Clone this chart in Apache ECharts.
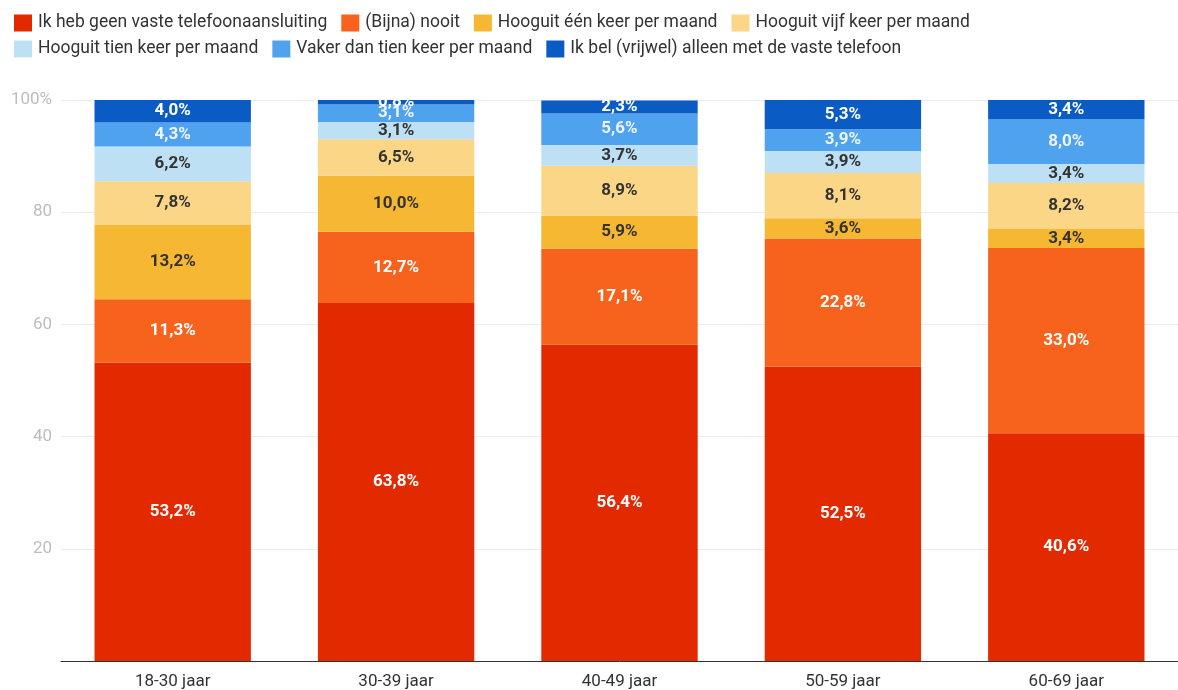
<!DOCTYPE html>
<html>
<head>
<meta charset="utf-8">
<script src="https://cdn.jsdelivr.net/npm/echarts@6/dist/echarts.min.js"></script>
<style>
html,body{margin:0;padding:0;background:#fff;}
#c{width:1178px;height:690px;}
</style>
</head>
<body>
<div id="c"></div>
<script>
const categories = ['18-30 jaar','30-39 jaar','40-49 jaar','50-59 jaar','60-69 jaar'];
const seriesNames = [
  'Ik heb geen vaste telefoonaansluiting',
  '(Bijna) nooit',
  'Hooguit één keer per maand',
  'Hooguit vijf keer per maand',
  'Hooguit tien keer per maand',
  'Vaker dan tien keer per maand',
  'Ik bel (vrijwel) alleen met de vaste telefoon'
];
const geenAansluiting = [53.2, 63.8, 56.4, 52.5, 40.6];
const bijnaNooit      = [11.3, 12.7, 17.1, 22.8, 33.0];
const eenKeer         = [13.2, 10.0, 5.9, 3.6, 3.4];
const vijfKeer        = [7.8, 6.5, 8.9, 8.1, 8.2];
const tienKeer        = [6.2, 3.1, 3.7, 3.9, 3.4];
const vakerDanTien    = [4.3, 3.1, 5.6, 3.9, 8.0];
const alleenVast      = [4.0, 0.8, 2.3, 5.3, 3.4];
const yTickLabels = {0:'', 20:'20', 40:'40', 60:'60', 80:'80', 100:'100%'};

const values = [geenAansluiting, bijnaNooit, eenKeer, vijfKeer, tienKeer, vakerDanTien, alleenVast];
const colors = ['#e32900', '#f7621c', '#f6b732', '#fbd686', '#bde0f5', '#4fa3ee', '#0b5bc5'];
const labelColors = ['#ffffff', '#ffffff', '#333333', '#333333', '#333333', '#eef4ff', '#ffffff'];

const legendBase = {
  left: 9, orient: 'horizontal',
  itemWidth: 18, itemHeight: 17, itemGap: 14,
  icon: 'rect',
  textStyle: {fontFamily: 'Roboto', fontSize: 17.5, color: '#333', padding: [0,0,0,1]}
};

const chart = echarts.init(document.getElementById('c'));
chart.setOption({
  animation: false,
  color: colors,
  legend: [
    Object.assign({}, legendBase, {top: 9, data: seriesNames.slice(0, 4)}),
    Object.assign({}, legendBase, {top: 35, data: seriesNames.slice(4)})
  ],
  grid: {left: 61, right: -3, top: 100, bottom: 29, containLabel: false},
  xAxis: {
    type: 'category', data: categories,
    axisLine: {lineStyle: {color: '#333', width: 1}},
    axisTick: {show: false},
    axisLabel: {fontFamily: 'Roboto', fontSize: 17, color: '#333', margin: 12}
  },
  yAxis: {
    type: 'value', min: 0, max: 100, interval: 20,
    axisLine: {show: false}, axisTick: {show: false},
    splitLine: {lineStyle: {color: '#ececec'}},
    axisLabel: {fontFamily: 'Roboto', fontSize: 17, color: '#bdbdbd', margin: 9,
      formatter: v => yTickLabels[v] !== undefined ? yTickLabels[v] : String(v)}
  },
  series: seriesNames.map((name, i) => ({
    name, type: 'bar', stack: 'total', barWidth: '70%',
    data: values[i],
    itemStyle: {color: colors[i]},
    label: {
      show: true, position: 'inside',
      fontFamily: 'Roboto', fontSize: 17, fontWeight: 'bold',
      color: labelColors[i],
      formatter: p => p.value.toFixed(1).replace('.', ',') + '%'
    }
  }))
});
</script>
</body>
</html>
